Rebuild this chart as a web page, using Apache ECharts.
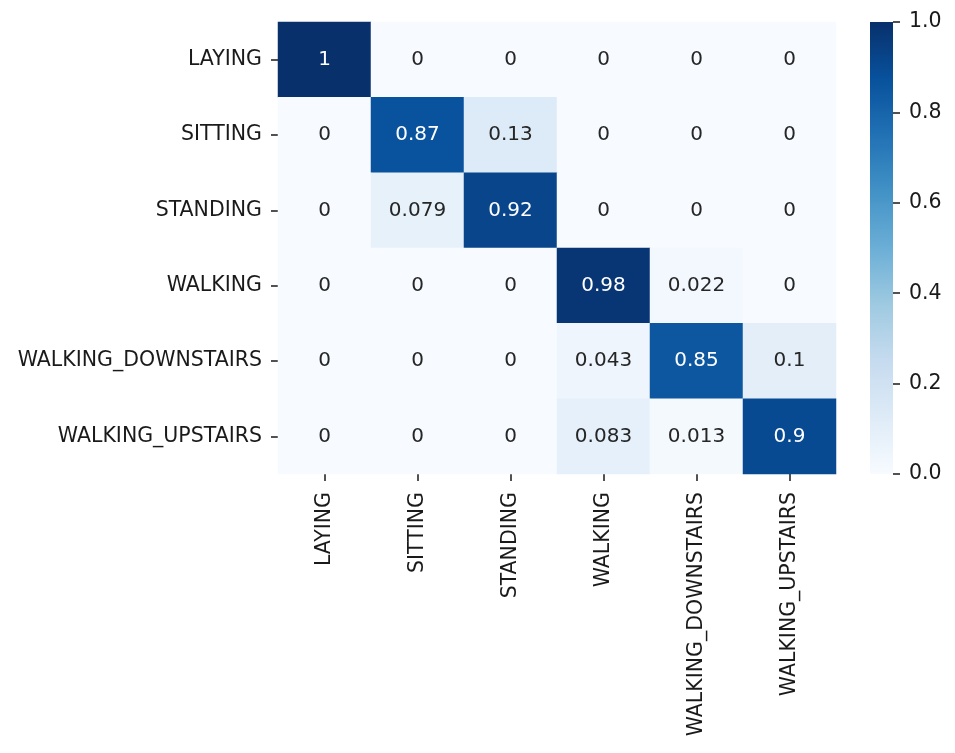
<!DOCTYPE html>
<html><head><meta charset="utf-8">
<script src="https://cdn.jsdelivr.net/npm/echarts@6/dist/echarts.min.js"></script>
<style>html,body{margin:0;padding:0;background:#fff}#c{width:955px;height:753px}</style>
</head><body><div id="c"></div>
<script>
const categories = ['LAYING','SITTING','STANDING','WALKING','WALKING_DOWNSTAIRS','WALKING_UPSTAIRS'];
const row_LAYING = [1, 0, 0, 0, 0, 0];
const row_SITTING = [0, 0.87, 0.13, 0, 0, 0];
const row_STANDING = [0, 0.079, 0.92, 0, 0, 0];
const row_WALKING = [0, 0, 0, 0.98, 0.022, 0];
const row_WALKING_DOWNSTAIRS = [0, 0, 0, 0.043, 0.85, 0.1];
const row_WALKING_UPSTAIRS = [0, 0, 0, 0.083, 0.013, 0.9];
const colorbarRange = [0, 1];
const blues = ['#f7fbff','#deebf7','#c6dbef','#9ecae1','#6baed6','#4292c6','#2171b5','#08519c','#08306b'];

const rows = [row_LAYING,row_SITTING,row_STANDING,row_WALKING,row_WALKING_DOWNSTAIRS,row_WALKING_UPSTAIRS];
const data = [];
rows.forEach((r, yi) => r.forEach((v, xi) => {
  data.push({value: [xi, yi, v], label: {color: v > 0.5 ? '#ffffff' : '#262626'}});
}));
const FONT = 'DejaVu Sans';
const TXT = '#1a1a1a';
const gradStops = blues.map((c, i) => ({offset: 1 - i / (blues.length - 1), color: c}));
const chart = echarts.init(document.getElementById('c'), null, {renderer: 'canvas'});
chart.setOption({
  animation: false,
  backgroundColor: '#fff',
  textStyle: {fontFamily: FONT},
  grid: [
    {left: 278, top: 22, width: 558, height: 452, containLabel: false},
    {left: 870, top: 22, width: 23, height: 452, containLabel: false}
  ],
  xAxis: [
    {type: 'category', gridIndex: 0, data: categories, position: 'bottom',
     axisLine: {show: false}, splitLine: {show: false}, splitArea: {show: false},
     axisTick: {show: true, alignWithLabel: true, length: 7, lineStyle: {color: TXT, width: 1.5}},
     axisLabel: {rotate: 90, margin: 18, fontSize: 20.5, color: TXT, fontFamily: FONT, interval: 0}},
    {type: 'category', gridIndex: 1, show: false, data: ['cb']}
  ],
  yAxis: [
    {type: 'category', gridIndex: 0, data: categories, inverse: true,
     axisLine: {show: false}, splitLine: {show: false}, splitArea: {show: false},
     axisTick: {show: true, alignWithLabel: true, length: 7, lineStyle: {color: TXT, width: 1.5}},
     axisLabel: {margin: 16, fontSize: 20.5, color: TXT, fontFamily: FONT, interval: 0}},
    {type: 'value', gridIndex: 1, position: 'right', min: colorbarRange[0], max: colorbarRange[1], interval: 0.2,
     axisLine: {show: false}, splitLine: {show: false},
     axisTick: {show: true, length: 7, lineStyle: {color: TXT, width: 1.5}},
     axisLabel: {margin: 16, fontSize: 20.5, color: TXT, fontFamily: FONT,
       formatter: v => v.toFixed(1)}}
  ],
  visualMap: {
    type: 'continuous', min: colorbarRange[0], max: colorbarRange[1], seriesIndex: 0, show: false,
    inRange: {color: blues}
  },
  series: [{
    type: 'heatmap', xAxisIndex: 0, yAxisIndex: 0, data: data,
    label: {show: true, fontSize: 20, fontFamily: FONT, formatter: p => String(p.value[2])},
    itemStyle: {borderWidth: 0}
  }, {
    type: 'bar', xAxisIndex: 1, yAxisIndex: 1, data: [colorbarRange[1]], barWidth: '100%',
    silent: true,
    itemStyle: {color: new echarts.graphic.LinearGradient(0, 0, 0, 1, gradStops), borderRadius: 0}
  }]
});
</script></body></html>
